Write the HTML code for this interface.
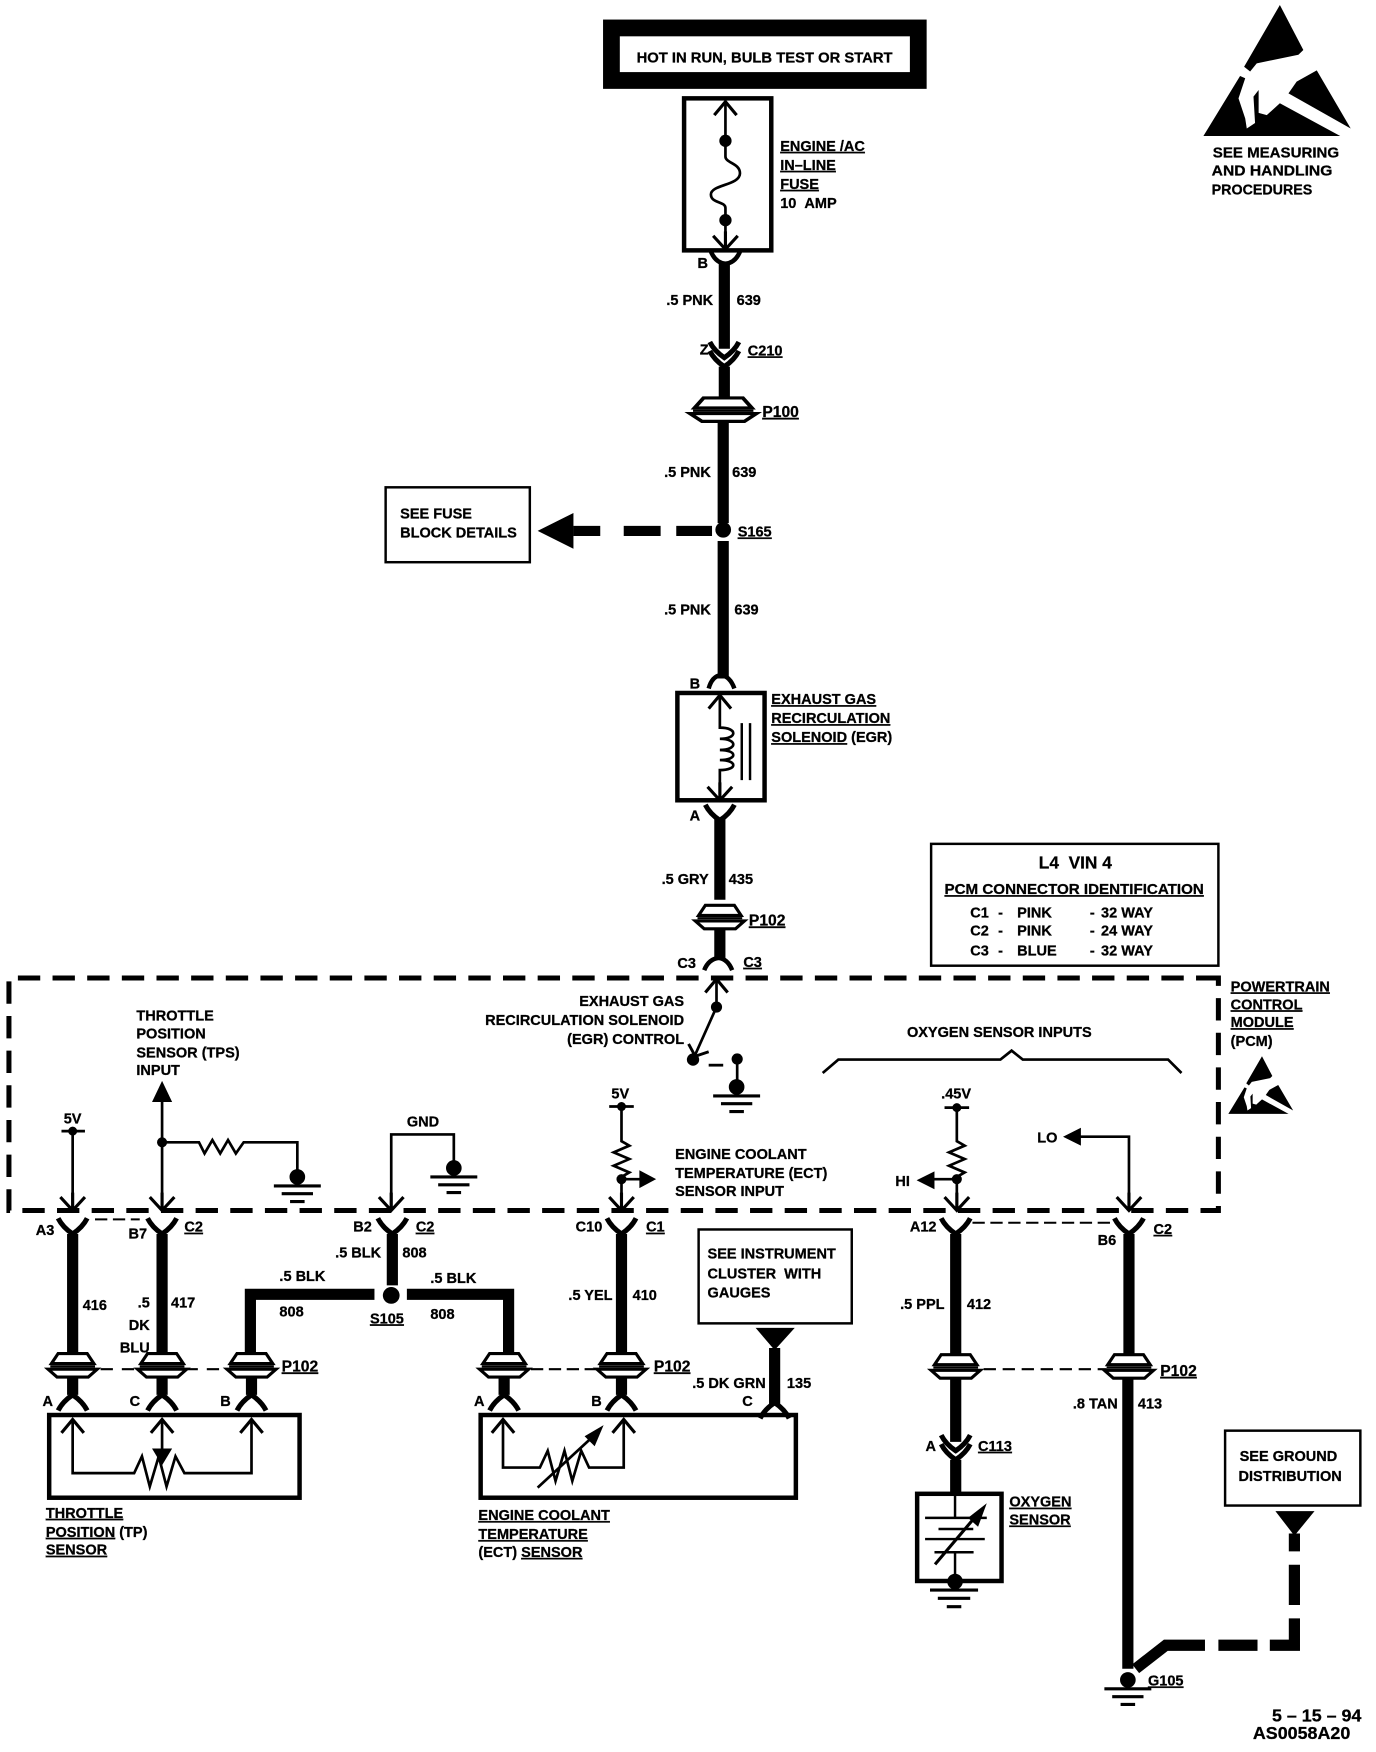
<!DOCTYPE html>
<html>
<head>
<meta charset="utf-8">
<style>
html,body{margin:0;padding:0;background:#fff}
svg{display:block;width:1376px;height:1752px}
text{font-family:"Liberation Sans",sans-serif;font-weight:bold;font-size:13px;fill:#000;stroke:#000;stroke-width:.25}
.r{text-anchor:end}
.c{text-anchor:middle}
.u{text-decoration:underline}
.p{font-size:14px}
.w{fill:none;stroke:#000;stroke-width:10}
.t{fill:none;stroke:#000;stroke-width:2.4}
</style>
</head>
<body>
<svg viewBox="0 0 1231 1567.5" preserveAspectRatio="none" xmlns="http://www.w3.org/2000/svg">
<defs>
<g id="yu"><path d="M-13,-10 Q-9,-2 0,4 Q9,-2 13,-10" fill="none" stroke="#000" stroke-width="4.5"/></g>
<g id="yd"><path d="M-13,10 Q-9,2 0,-4 Q9,2 13,10" fill="none" stroke="#000" stroke-width="4.5"/></g>
<g id="cd"><path d="M-11,-10 L0,2 L11,-10 M0,2 V-14" fill="none" stroke="#000" stroke-width="2.8"/></g>
<g id="cu"><path d="M-10,10 L0,-2 L10,10" fill="none" stroke="#000" stroke-width="2.8"/></g>
<g id="p"><path d="M-13,-11 H13 L19,-2 H-19 Z" fill="#fff" stroke="#000" stroke-width="2.8"/><path d="M-22,3 H22 L14,10 H-14 Z" fill="#fff" stroke="#000" stroke-width="2.8"/><path d="M-20,0.5 H20" stroke="#000" stroke-width="2"/></g>
<g id="g"><circle cx="0" cy="0" r="7"/><path d="M-21,8 H21 M-14,15 H14 M-6.5,22 H6.5" stroke="#000" stroke-width="2.8"/></g>
<g id="esd"><path d="M0,4.5 L21,44.7 L16.6,49 L-20.7,56.7 L-26.6,64 L-32,59.7 Z"/><path d="M-35.6,68 L-31,70 L-37,88 L-31,106 L-29.6,115 L-22.2,110 L-23.6,86.5 L-19,80.5 L-19,101 L-11.7,103 L0,92.4 L54,121.7 H-68.4 Z"/><path d="M33,63 L63.4,115 L7.7,83.5 L15,73 Z"/></g>
</defs>

<!-- top box -->
<rect x="547" y="25" width="274.5" height="47" fill="#fff" stroke="#000" stroke-width="15"/>
<text x="684" y="56" class="c" textLength="229" lengthAdjust="spacingAndGlyphs">HOT IN RUN, BULB TEST OR START</text>

<!-- fuse -->
<rect x="612" y="88" width="78" height="136" fill="#fff" stroke="#000" stroke-width="4"/>
<path class="t" d="M649,92 V140 C649,146 662,146 662,155 C662,166 636,165 636,174 C636,182 649,180 649,186 V222"/>
<circle cx="649" cy="126" r="5.5"/><circle cx="649" cy="197" r="5.5"/>
<use href="#cu" x="649" y="93"/><use href="#cd" x="649" y="221"/>
<text x="698" y="135" class="u">ENGINE /AC</text>
<text x="698" y="152" class="u">IN–LINE</text>
<text x="698" y="169" class="u">FUSE</text>
<text x="698" y="186">10&#160;&#160;AMP</text>

<!-- main wire top -->
<path d="M636,225 Q640,235 649,236 Q658,235 662,225" fill="none" stroke="#000" stroke-width="4"/>
<path class="w" d="M648,236 V312"/>
<text x="624" y="240">B</text>
<text x="638" y="273" class="r">.5 PNK</text><text x="659" y="273">639</text>
<use href="#yu" x="648" y="316"/><use href="#yu" x="648" y="324"/>
<text x="626" y="317">Z</text><text x="669" y="318" class="u">C210</text>
<path class="w" d="M648,328 V358"/>
<g transform="translate(647 367) scale(1.35 1)"><use href="#p"/></g>
<path class="w" d="M647,378 V468"/>
<text x="682" y="373" class="u p">P100</text>
<text x="636" y="427" class="r">.5 PNK</text><text x="655" y="427">639</text>
<circle cx="647" cy="474" r="7"/>
<text x="660" y="480" class="u">S165</text>
<path d="M481,475 L513,459 V491 Z"/>
<path d="M513,475 H537 M558,475 H591 M605,475 H637" stroke="#000" stroke-width="9" fill="none"/>
<rect x="345" y="436" width="129" height="67" fill="#fff" stroke="#000" stroke-width="2.2"/>
<text x="358" y="464">SEE FUSE</text><text x="358" y="481">BLOCK DETAILS</text>
<path class="w" d="M647,484 V607"/>
<text x="636" y="550" class="r">.5 PNK</text><text x="657" y="550">639</text>
<text x="617" y="616">B</text>
<path d="M634,616 Q637,605 645,604 Q653,605 657,616" fill="none" stroke="#000" stroke-width="4"/>

<!-- EGR solenoid -->
<rect x="606" y="620" width="78" height="96" fill="#fff" stroke="#000" stroke-width="4"/>
<path class="t" d="M644,624 V651 C660,651 660,661 644,661 C660,661 660,671 644,671 C660,671 660,680 644,680 C660,680 660,689 644,689 V714"/>
<path d="M663.6,647 V698 M671,647 V698" stroke="#000" stroke-width="2.2"/>
<use href="#cu" x="644" y="624"/><use href="#cd" x="644" y="714"/>
<text x="690" y="630" class="u">EXHAUST GAS</text>
<text x="690" y="647" class="u">RECIRCULATION</text>
<text x="690" y="664"><tspan class="u">SOLENOID</tspan> (EGR)</text>
<text x="617" y="734">A</text>
<use href="#yu" x="644" y="730"/>
<path class="w" d="M644,732 V805"/>
<text x="634" y="791" class="r">.5 GRY</text><text x="652" y="791">435</text>
<use href="#p" x="644" y="821"/>
<path class="w" d="M644,831 V858"/>
<text x="670" y="828" class="u p">P102</text>
<path d="M630,868 Q634,858 643,857 Q651,858 655,868" fill="none" stroke="#000" stroke-width="4"/>
<text x="606" y="866">C3</text><text x="665" y="865" class="u">C3</text>

<!-- ID table -->
<rect x="833" y="755" width="257" height="109" fill="#fff" stroke="#000" stroke-width="2.2"/>
<text x="962" y="777" class="c" style="font-size:15.5px">L4&#160;&#160;VIN 4</text>
<text x="961" y="800" class="c u" textLength="232" lengthAdjust="spacingAndGlyphs">PCM CONNECTOR IDENTIFICATION</text>
<text x="868" y="821">C1</text><text x="893" y="821">-</text><text x="910" y="821">PINK</text><text x="975" y="821">-</text><text x="985" y="821">32 WAY</text>
<text x="868" y="837">C2</text><text x="893" y="837">-</text><text x="910" y="837">PINK</text><text x="975" y="837">-</text><text x="985" y="837">24 WAY</text>
<text x="868" y="855">C3</text><text x="893" y="855">-</text><text x="910" y="855">BLUE</text><text x="975" y="855">-</text><text x="985" y="855">32 WAY</text>

<!-- PCM dashed -->
<path d="M1090,875 H8 V1083 H1090 Z" fill="none" stroke="#000" stroke-width="4.5" stroke-dasharray="20 11"/>
<text x="1101" y="887" class="u">POWERTRAIN</text>
<text x="1101" y="903" class="u">CONTROL</text>
<text x="1101" y="919" class="u">MODULE</text>
<text x="1101" y="936">(PCM)</text>
<g transform="translate(1129 943) scale(0.44)"><use href="#esd"/></g>

<!-- switch -->
<use href="#cu" x="641" y="878"/>
<path class="t" d="M641,878 V901 L620,948"/>
<path d="M616,934 L622,945 L634,941" fill="none" stroke="#000" stroke-width="2.6"/>
<circle cx="641" cy="901" r="5"/><circle cx="620" cy="948" r="5.5"/>
<path d="M634,953 H647" stroke="#000" stroke-width="2.5"/>
<circle cx="659.5" cy="947.5" r="5"/><path class="t" d="M659.5,947 V968"/>
<use href="#g" x="659" y="972.5"/>
<text x="612" y="900" class="r">EXHAUST GAS</text>
<text x="612" y="917" class="r">RECIRCULATION SOLENOID</text>
<text x="612" y="934" class="r">(EGR) CONTROL</text>

<!-- TPS -->
<text x="122" y="913">THROTTLE</text>
<text x="122" y="929">POSITION</text>
<text x="122" y="946">SENSOR (TPS)</text>
<text x="122" y="962">INPUT</text>
<path d="M145,967 L154,986 H136 Z"/>
<path class="t" d="M145,985 V1080 M145,1022 H178 L183,1032 L190,1020 L197,1032 L204,1020 L211,1032 L218,1022 H266 V1048"/>
<circle cx="145" cy="1022" r="4.5"/>
<use href="#g" x="266" y="1053"/>
<use href="#cd" x="145" y="1081"/>
<text x="57" y="1005">5V</text>
<path d="M55,1012 H76" stroke="#000" stroke-width="2.5"/><circle cx="65" cy="1012" r="4"/>
<path class="t" d="M65,1012 V1080"/><use href="#cd" x="65" y="1081"/>

<!-- GND -->
<text x="364" y="1008">GND</text>
<path class="t" d="M350,1080 V1015 H406 V1042"/>
<use href="#cd" x="350" y="1081"/>
<use href="#g" x="406" y="1045"/>

<!-- 5V ECT -->
<text x="547" y="983">5V</text>
<path d="M545,990 H567" stroke="#000" stroke-width="2.5"/><circle cx="556" cy="990" r="4"/>
<path class="t" d="M556,990 V1021 L563,1025 L549,1031 L563,1037 L549,1043 L563,1049 L556,1053 V1080 M556,1055 H574"/>
<circle cx="556" cy="1055" r="4.5"/>
<path d="M587,1055 L572,1047 V1063 Z"/>
<use href="#cd" x="556" y="1081"/>
<text x="604" y="1037">ENGINE COOLANT</text>
<text x="604" y="1054">TEMPERATURE (ECT)</text>
<text x="604" y="1070">SENSOR INPUT</text>

<!-- O2 inputs -->
<text x="894" y="928" class="c">OXYGEN SENSOR INPUTS</text>
<path class="t" d="M736,960 L750,948 H895 L905,940 L915,948 H1045 L1057,960"/>
<text x="842" y="983">.45V</text>
<path d="M845,991 H867" stroke="#000" stroke-width="2.5"/><circle cx="856" cy="991" r="4"/>
<path class="t" d="M856,991 V1021 L863,1025 L849,1031 L863,1037 L849,1043 L863,1049 L856,1053 V1080 M856,1055 H830"/>
<circle cx="856" cy="1055" r="4.5"/>
<path d="M820,1056 L836,1048 V1064 Z"/>
<use href="#cd" x="856" y="1081"/>
<text x="801" y="1061">HI</text>
<text x="928" y="1022">LO</text>
<path d="M951,1017 L967,1009 V1025 Z"/>
<path class="t" d="M966,1017 H1010 V1080"/>
<use href="#cd" x="1010" y="1081"/>

<!-- top right esd -->
<g transform="translate(1145 0)"><use href="#esd"/></g>
<text x="1085" y="141" textLength="113" lengthAdjust="spacingAndGlyphs">SEE MEASURING</text>
<text x="1084" y="157" textLength="108" lengthAdjust="spacingAndGlyphs">AND HANDLING</text>
<text x="1084" y="174" textLength="90" lengthAdjust="spacingAndGlyphs">PROCEDURES</text>

<!-- lower connectors -->
<use href="#yu" x="65" y="1100"/><use href="#yu" x="145" y="1100"/><use href="#yu" x="351" y="1100"/><use href="#yu" x="556" y="1100"/><use href="#yu" x="855" y="1100"/><use href="#yu" x="1010" y="1100"/>
<path d="M85,1091 H125" stroke="#000" stroke-width="1.8" stroke-dasharray="11 5"/>
<path d="M870,1094 H995" stroke="#000" stroke-width="1.8" stroke-dasharray="11 5"/>
<text x="32" y="1105">A3</text><text x="115" y="1108">B7</text><text x="165" y="1102" class="u">C2</text>
<text x="316" y="1102">B2</text><text x="372" y="1102" class="u">C2</text>
<text x="515" y="1102">C10</text><text x="578" y="1102" class="u">C1</text>
<text x="814" y="1102">A12</text><text x="982" y="1114">B6</text><text x="1032" y="1104" class="u">C2</text>

<path class="w" d="M65,1104 V1212 M145,1104 V1212 M556,1104 V1212"/>
<text x="74" y="1172">416</text><text x="153" y="1170">417</text>
<text x="134" y="1170" class="r">.5</text><text x="134" y="1190" class="r">DK</text><text x="134" y="1210" class="r">BLU</text>
<path class="w" d="M351,1104 V1150"/>
<text x="341" y="1125" class="r">.5 BLK</text><text x="360" y="1125">808</text>
<circle cx="350" cy="1159" r="7.5"/>
<text x="331" y="1184" class="u">S105</text>
<path class="w" d="M335,1158 H224 V1212"/>
<path class="w" d="M364,1158 H455 V1212"/>
<text x="250" y="1146">.5 BLK</text><text x="250" y="1178">808</text>
<text x="385" y="1148">.5 BLK</text><text x="385" y="1180">808</text>
<text x="548" y="1163" class="r">.5 YEL</text><text x="566" y="1163">410</text>

<!-- P102 rows -->
<path d="M90,1225 H205" stroke="#000" stroke-width="2" stroke-dasharray="11 8"/>
<path d="M475,1225 H535" stroke="#000" stroke-width="2" stroke-dasharray="11 5"/>
<path d="M880,1225 H990" stroke="#000" stroke-width="2" stroke-dasharray="11 6"/>
<use href="#p" x="65" y="1222"/><use href="#p" x="145" y="1222"/><use href="#p" x="225" y="1222"/>
<use href="#p" x="451" y="1222"/><use href="#p" x="556" y="1222"/>
<use href="#p" x="855" y="1223"/><use href="#p" x="1010" y="1223"/>
<text x="252" y="1227" class="u p">P102</text><text x="585" y="1227" class="u p">P102</text><text x="1038" y="1231" class="u p">P102</text>
<path class="w" d="M65,1232 V1248 M145,1232 V1248 M225,1232 V1248 M451,1232 V1248 M556,1232 V1248"/>
<use href="#yd" x="65" y="1252"/><use href="#yd" x="145" y="1252"/><use href="#yd" x="225" y="1252"/><use href="#yd" x="451" y="1252"/><use href="#yd" x="556" y="1252"/>
<text x="38" y="1258">A</text><text x="116" y="1258">C</text><text x="197" y="1258">B</text><text x="424" y="1258">A</text><text x="529" y="1258">B</text>

<!-- TP sensor -->
<rect x="44" y="1266" width="224" height="74" fill="#fff" stroke="#000" stroke-width="4"/>
<use href="#cu" x="65" y="1272"/><use href="#cu" x="145" y="1272"/><use href="#cu" x="225" y="1272"/>
<path class="t" d="M65,1272 V1318 H120 L127,1303 L134,1330 L142,1303 L149,1330 L157,1303 L165,1318 H225 V1272 M145,1272 V1296"/>
<path d="M145,1311 L136,1296 H154 Z"/>
<text x="41" y="1358" class="u">THROTTLE</text>
<text x="41" y="1375"><tspan class="u">POSITION</tspan> (TP)</text>
<text x="41" y="1391" class="u">SENSOR</text>

<!-- ECT sensor -->
<rect x="430" y="1266" width="282" height="74" fill="#fff" stroke="#000" stroke-width="4"/>
<use href="#cu" x="450" y="1272"/><use href="#cu" x="558" y="1272"/>
<path class="t" d="M450,1272 V1313 H483 L490,1298 L497,1325 L505,1298 L512,1325 L520,1298 L527,1313 H558 V1272"/>
<path class="t" d="M481,1331 L534,1282"/>
<path d="M540,1275 L523,1285 L532,1294 Z"/>
<text x="428" y="1360" class="u">ENGINE COOLANT</text>
<text x="428" y="1377" class="u">TEMPERATURE</text>
<text x="428" y="1393">(ECT) <tspan class="u">SENSOR</tspan></text>

<!-- instrument -->
<rect x="625" y="1100" width="137" height="84" fill="#fff" stroke="#000" stroke-width="2.2"/>
<text x="633" y="1126">SEE INSTRUMENT</text>
<text x="633" y="1144">CLUSTER&#160;&#160;WITH</text>
<text x="633" y="1161">GAUGES</text>
<path d="M676,1188 H711 L693,1208 Z"/>
<path class="w" d="M693,1206 V1256"/>
<use href="#yd" x="693" y="1259"/>
<text x="685" y="1242" class="r">.5 DK GRN</text><text x="704" y="1242">135</text>
<text x="664" y="1258">C</text>

<!-- O2 wire -->
<path class="w" d="M855,1104 V1212"/>
<text x="845" y="1171" class="r">.5 PPL</text><text x="865" y="1171">412</text>
<path class="w" d="M855,1233 V1290"/>
<use href="#yu" x="855" y="1294"/><use href="#yu" x="855" y="1302"/>
<text x="828" y="1298">A</text><text x="875" y="1298" class="u">C113</text>
<path class="w" d="M855,1306 V1338"/>
<rect x="820.5" y="1336.5" width="75.5" height="78" fill="#fff" stroke="#000" stroke-width="4"/>
<path d="M854.4,1338 V1358 M827.6,1358 H882.8 M839.6,1368 H870.7 M827.6,1377 H881 M836,1388.8 H871 M854.4,1389 V1412" stroke="#000" stroke-width="2.2"/>
<path d="M836.5,1399.6 L876,1353" stroke="#000" stroke-width="2.8" fill="none"/>
<path d="M882.8,1345 L866,1358 L875,1366 Z"/>
<circle cx="854.4" cy="1415" r="7"/>
<path d="M832,1422.6 H875 M839,1430 H868 M847,1437.5 H860" stroke="#000" stroke-width="2.8"/>
<text x="903" y="1348" class="u">OXYGEN</text><text x="903" y="1364" class="u">SENSOR</text>

<!-- TAN wire -->
<path class="w" d="M1010,1104 V1212 M1009,1233 V1493"/>
<text x="1000" y="1260" class="r">.8 TAN</text><text x="1018" y="1260">413</text>
<use href="#g" x="1009" y="1503"/>
<text x="1027" y="1508" class="u">G105</text>
<path class="w" d="M1016,1493 L1043,1472 H1078 M1090,1472 H1125 M1136,1472 H1158 V1448 M1158,1436 V1400 M1158,1388 V1372"/>
<path d="M1141,1352 H1176 L1158,1374 Z"/>
<rect x="1096" y="1280" width="121" height="67" fill="#fff" stroke="#000" stroke-width="2.2"/>
<text x="1109" y="1307">SEE GROUND</text>
<text x="1108" y="1325">DISTRIBUTION</text>

<text x="1218" y="1540" class="r" style="font-size:16px">5 – 15 – 94</text>
<text x="1208" y="1556" class="r" style="font-size:16px">AS0058A20</text>
</svg>
</body>
</html>
